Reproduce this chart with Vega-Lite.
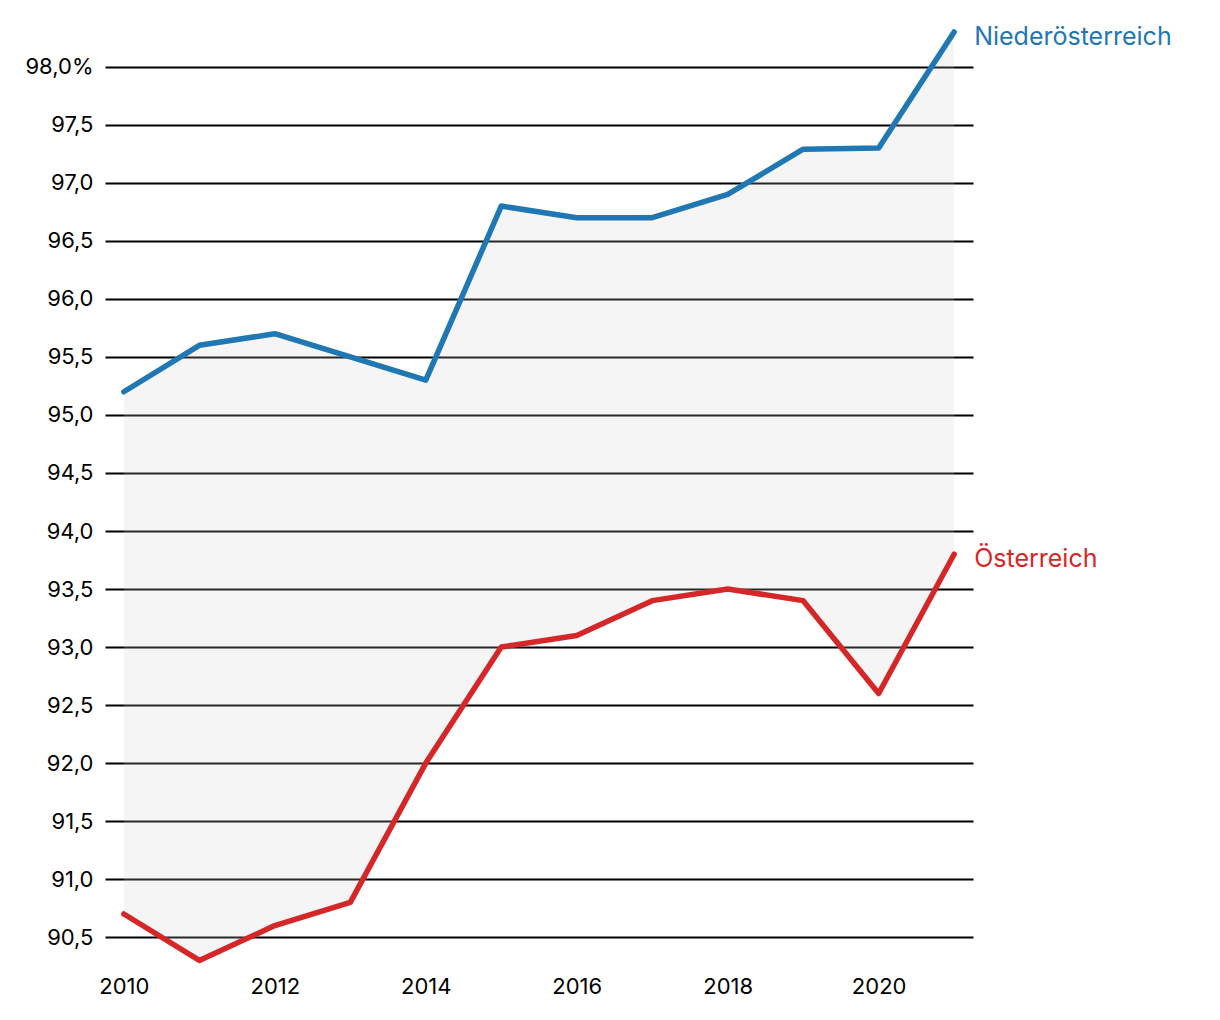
{
  "$schema": "https://vega.github.io/schema/vega-lite/v6.json",
  "autosize": "none",
  "width": 868,
  "height": 940,
  "padding": {"left": 105, "top": 32, "right": 247, "bottom": 48},
  "background": "white",
  "config": {
    "view": {"stroke": null},
    "font": "Inter",
    "axis": {"labelFont": "Inter", "labelColor": "#000000", "labelFontWeight": 400}
  },
  "data": {
    "values": [
      {"year": 2010, "region": "Niederösterreich", "value": 95.2},
      {"year": 2011, "region": "Niederösterreich", "value": 95.6},
      {"year": 2012, "region": "Niederösterreich", "value": 95.7},
      {"year": 2013, "region": "Niederösterreich", "value": 95.5},
      {"year": 2014, "region": "Niederösterreich", "value": 95.3},
      {"year": 2015, "region": "Niederösterreich", "value": 96.8},
      {"year": 2016, "region": "Niederösterreich", "value": 96.7},
      {"year": 2017, "region": "Niederösterreich", "value": 96.7},
      {"year": 2018, "region": "Niederösterreich", "value": 96.9},
      {"year": 2019, "region": "Niederösterreich", "value": 97.29},
      {"year": 2020, "region": "Niederösterreich", "value": 97.3},
      {"year": 2021, "region": "Niederösterreich", "value": 98.3},
      {"year": 2010, "region": "Österreich", "value": 90.7},
      {"year": 2011, "region": "Österreich", "value": 90.3},
      {"year": 2012, "region": "Österreich", "value": 90.6},
      {"year": 2013, "region": "Österreich", "value": 90.8},
      {"year": 2014, "region": "Österreich", "value": 92.0},
      {"year": 2015, "region": "Österreich", "value": 93.0},
      {"year": 2016, "region": "Österreich", "value": 93.1},
      {"year": 2017, "region": "Österreich", "value": 93.4},
      {"year": 2018, "region": "Österreich", "value": 93.5},
      {"year": 2019, "region": "Österreich", "value": 93.4},
      {"year": 2020, "region": "Österreich", "value": 92.6},
      {"year": 2021, "region": "Österreich", "value": 93.8}
    ]
  },
  "encoding": {
    "x": {
      "field": "year",
      "type": "quantitative",
      "scale": {"domain": [2009.75, 2021.25], "nice": false, "zero": false},
      "axis": {
        "title": null,
        "values": [2010, 2012, 2014, 2016, 2018, 2020],
        "format": "d",
        "grid": false,
        "ticks": false,
        "domain": false,
        "labelFontSize": 22,
        "labelPadding": 4
      }
    }
  },
  "layer": [
    {
      "transform": [
        {"pivot": "region", "value": "value", "groupby": ["year"]}
      ],
      "mark": {"type": "area", "color": "#cccccc", "opacity": 0.2},
      "encoding": {
        "y": {
          "field": "Österreich",
          "type": "quantitative",
          "scale": {"domain": [90.2, 98.3], "nice": false, "zero": false},
          "axis": {
            "title": null,
            "values": [90.5, 91, 91.5, 92, 92.5, 93, 93.5, 94, 94.5, 95, 95.5, 96, 96.5, 97, 97.5, 98],
            "labelExpr": "datum.value == 98 ? '98,0%' : replace(format(datum.value, '.1f'), '.', ',')",
            "grid": true,
            "gridColor": "#000000",
            "gridWidth": 2,
            "gridOpacity": 1,
            "ticks": false,
            "domain": false,
            "labelFontSize": 22,
            "labelPadding": 12
          }
        },
        "y2": {"field": "Niederösterreich"}
      }
    },
    {
      "mark": {"type": "line", "strokeWidth": 5.5, "strokeJoin": "round", "strokeCap": "round"},
      "encoding": {
        "y": {"field": "value", "type": "quantitative"},
        "color": {
          "field": "region",
          "type": "nominal",
          "scale": {"domain": ["Niederösterreich", "Österreich"], "range": ["#1f77b4", "#d62728"]},
          "legend": null
        }
      }
    },
    {
      "transform": [{"filter": "datum.year == 2021"}],
      "mark": {"type": "text", "align": "left", "baseline": "middle", "dx": 20, "dy": 5, "fontSize": 25},
      "encoding": {
        "y": {"field": "value", "type": "quantitative"},
        "text": {"field": "region"},
        "color": {"field": "region", "type": "nominal", "legend": null}
      }
    }
  ]
}
